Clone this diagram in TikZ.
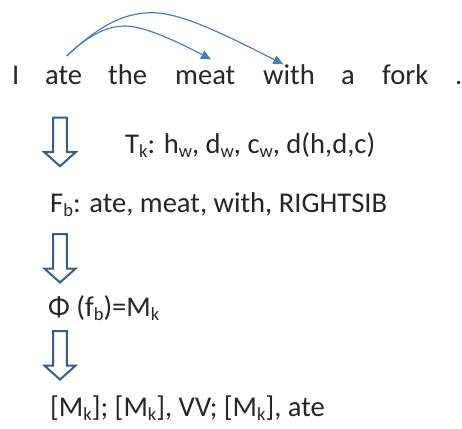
\documentclass[tikz,border=0pt]{standalone}
\usepackage{fontspec}
\setmainfont{Carlito}
\usetikzlibrary{arrows.meta}
\definecolor{txt}{RGB}{38,38,38}
\definecolor{curvecol}{RGB}{74,126,187}
\definecolor{blk}{RGB}{56,93,138}
\newcommand\sbs[1]{\raisebox{-4pt}{\fontsize{18.5}{18.5}\selectfont #1}}
\newcommand\blockarr[3]{%
  \draw[blockarrow] (#2-6.8,#3) -- (#2+6.8,#3) -- (#2+6.8,#3+34.5) -- (#2+15.7,#3+34.5)
    -- (#2,#3+48.5) -- (#2-15.7,#3+34.5) -- (#2-6.8,#3+34.5) -- cycle;
  \coordinate (#1) at (#2,#3);}
\begin{document}
\begin{tikzpicture}[x=1pt,y=-1pt,
  word/.style={anchor=base west, inner sep=0pt, text=txt, font=\fontsize{28.6}{34}\selectfont},
  dep/.style={draw=curvecol, line width=1.2pt, -{Triangle[length=10pt,width=9pt]}},
  blockarrow/.style={draw=blk, line width=2pt, fill=white, line join=miter}]
\useasboundingbox (0,0) rectangle (462,428);
% sentence
\node[word] (w1) at (12,84) {I};
\node[word] (w2) at (45,84) {ate};
\node[word] (w3) at (108,84) {the};
\node[word] (w4) at (175,84) {meat};
\node[word] (w5) at (263,84) {with};
\node[word] (w6) at (341,84) {a};
\node[word] (w7) at (382,84) {fork};
\node[word] (w8) at (455,84) {.};
% dependency arcs
\coordinate (s) at (66.7,56);
\coordinate (p1) at (125,26);
\coordinate (e1) at (211,59.3);
\coordinate (p2) at (151.7,12.7);
\coordinate (e2) at (283.3,64.3);
\draw[dep] (s) .. controls (85,38) and (105,26) .. (p1) .. controls (145,26) and (180,43) .. (e1);
\draw[dep] (s) .. controls (95,30) and (120,12.7) .. (p2) .. controls (180,12.7) and (220,32) .. (e2);
% block arrows
\blockarr{a1}{60}{117.7}
\blockarr{a2}{60}{234}
\blockarr{a3}{60}{331}
% text lines
\node[word] (tk) at (125,153) {T\sbs{k}: h\sbs{w}, d\sbs{w}, c\sbs{w}, d(h,d,c)};
\node[word] (fb) at (50,212) {F\sbs{b}: ate, meat, with, RIGHTSIB};
\node[word] (phi) at (48,316) {Φ (f\sbs{b})=M\sbs{k}};
\node[word] (mk) at (50,416) {[M\sbs{k}]; [M\sbs{k}], VV; [M\sbs{k}], ate};
\end{tikzpicture}
\end{document}
